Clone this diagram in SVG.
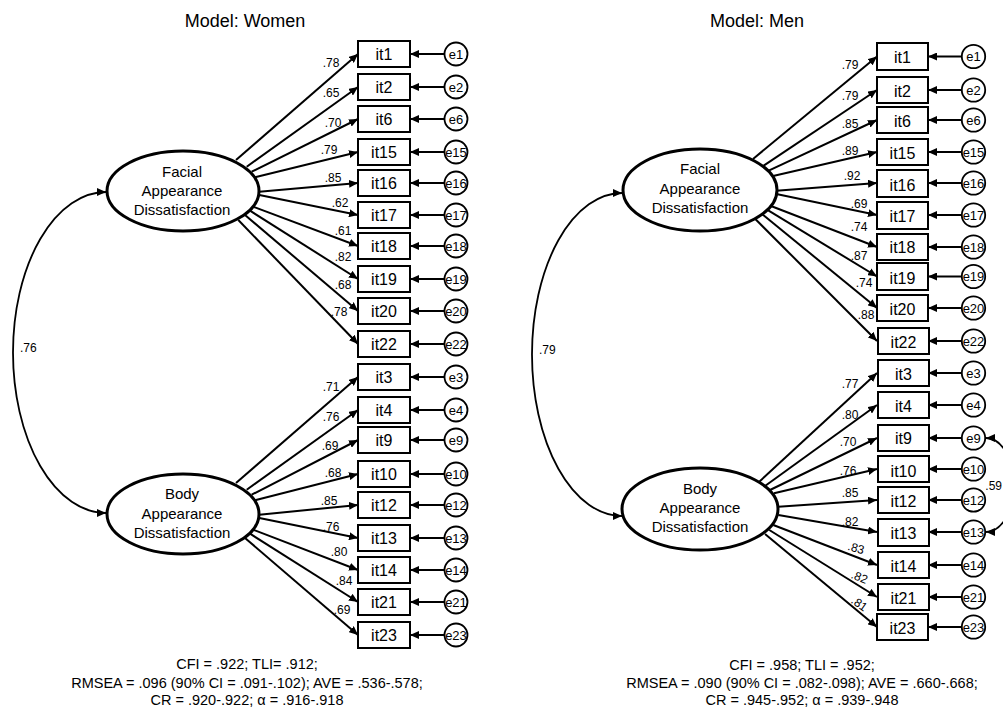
<svg xmlns="http://www.w3.org/2000/svg" width="1003" height="708" viewBox="0 0 1003 708">
<style>
text{font-family:"Liberation Sans",Arial,sans-serif;fill:#000}
.title{font-size:18px;text-anchor:middle}
.lat{fill:#fff;stroke:#000;stroke-width:3}
.lt{font-size:15px;text-anchor:middle}
.box{fill:#fff;stroke:#000;stroke-width:2}
.bt{font-size:16px;text-anchor:middle}
.err{fill:#fff;stroke:#000;stroke-width:1.8}
.et{font-size:13px;text-anchor:middle}
.ld{font-size:12px;text-anchor:middle}
.fit{font-size:14.5px;text-anchor:middle}
.c{fill:none;stroke:#000;stroke-width:2;marker-end:url(#ah)}
.cov{fill:none;stroke:#000;stroke-width:1.8;marker-start:url(#ah);marker-end:url(#ah)}
</style>
<defs>
<marker id="ah" markerWidth="10" markerHeight="8" refX="9" refY="4" orient="auto-start-reverse" markerUnits="userSpaceOnUse"><path d="M0,0 L9,4 L0,8 z" fill="#000"/></marker>
</defs>
<rect width="1003" height="708" fill="#fff"/>
<text class="title" x="245" y="27">Model: Women</text>
<text class="title" x="757" y="27">Model: Men</text>

<g id="connectors">
<path class="cov" d="M106,192 A93,160.5 0 0 0 106,513"/>
<path class="cov" d="M622,193 A90,161.5 0 0 0 622,516"/>
<path class="cov" d="M986,438 A28,47 0 0 1 986,532"/>
<path class="c" d="M236,160 L358,54"/>
<path class="c" d="M246.7,166.7 L358,87"/>
<path class="c" d="M251.7,171.7 L358,119"/>
<path class="c" d="M255,177.3 L358,152"/>
<path class="c" d="M259.3,191.7 L358,183"/>
<path class="c" d="M259.3,195 L358,215"/>
<path class="c" d="M253.3,206.7 L358,246"/>
<path class="c" d="M250,210.7 L358,279"/>
<path class="c" d="M245,215 L358,311"/>
<path class="c" d="M238.3,220 L358,344"/>
<path class="c" d="M236,483 L358,377"/>
<path class="c" d="M246.7,489.7 L358,410"/>
<path class="c" d="M251.7,494.7 L358,440"/>
<path class="c" d="M255,500.3 L358,474"/>
<path class="c" d="M259.3,514.7 L358,505"/>
<path class="c" d="M259.3,518 L358,538"/>
<path class="c" d="M253.3,529.7 L358,570"/>
<path class="c" d="M250,533.7 L358,602"/>
<path class="c" d="M245,538 L358,635"/>
<path class="c" d="M753,159 L877,56.5"/>
<path class="c" d="M763.7,165.7 L877,90"/>
<path class="c" d="M768.7,170.7 L877,120"/>
<path class="c" d="M772,176.3 L877,152"/>
<path class="c" d="M776.3,190.7 L877,183"/>
<path class="c" d="M776.3,194 L877,215"/>
<path class="c" d="M770.3,205.7 L877,247"/>
<path class="c" d="M767,209.7 L877,276.5"/>
<path class="c" d="M762,214 L877,308"/>
<path class="c" d="M755.3,219 L877,341"/>
<path class="c" d="M759.3,481.7 L877,373"/>
<path class="c" d="M765,486 L877,405"/>
<path class="c" d="M770,490 L877,438"/>
<path class="c" d="M774,493.3 L877,469"/>
<path class="c" d="M778.3,506.7 L877,500"/>
<path class="c" d="M778.3,515 L877,532"/>
<path class="c" d="M773.3,525 L877,565"/>
<path class="c" d="M769.3,530 L877,597"/>
<path class="c" d="M765,534 L877,627"/>
<path class="c" d="M444.5,54 H410"/>
<path class="c" d="M444.5,87 H410"/>
<path class="c" d="M444.5,119 H410"/>
<path class="c" d="M444.5,152 H410"/>
<path class="c" d="M444.5,183 H410"/>
<path class="c" d="M444.5,215 H410"/>
<path class="c" d="M444.5,246 H410"/>
<path class="c" d="M444.5,279 H410"/>
<path class="c" d="M444.5,311 H410"/>
<path class="c" d="M444.5,344 H410"/>
<path class="c" d="M444.5,377 H410"/>
<path class="c" d="M444.5,410 H410"/>
<path class="c" d="M444.5,440 H410"/>
<path class="c" d="M444.5,474 H410"/>
<path class="c" d="M444.5,505 H410"/>
<path class="c" d="M444.5,538 H410"/>
<path class="c" d="M444.5,570 H410"/>
<path class="c" d="M444.5,602 H410"/>
<path class="c" d="M444.5,635 H410"/>
<path class="c" d="M961.8,56.5 H928"/>
<path class="c" d="M961.8,90 H928"/>
<path class="c" d="M961.8,120 H928"/>
<path class="c" d="M961.8,152 H928"/>
<path class="c" d="M961.8,183 H928"/>
<path class="c" d="M961.8,215 H928"/>
<path class="c" d="M961.8,247 H928"/>
<path class="c" d="M961.8,276.5 H928"/>
<path class="c" d="M961.8,308 H928"/>
<path class="c" d="M961.8,341 H928"/>
<path class="c" d="M961.8,373 H928"/>
<path class="c" d="M961.8,405 H928"/>
<path class="c" d="M961.8,438 H928"/>
<path class="c" d="M961.8,469 H928"/>
<path class="c" d="M961.8,500 H928"/>
<path class="c" d="M961.8,532 H928"/>
<path class="c" d="M961.8,565 H928"/>
<path class="c" d="M961.8,597 H928"/>
<path class="c" d="M961.8,627 H928"/>
</g>

<g id="connector-labels">
<text class="ld" x="20" y="352" style="text-anchor:start">.76</text>
<text class="ld" x="539" y="354" style="text-anchor:start">.79</text>
<text class="ld" x="1002" y="490" style="text-anchor:end">.59</text>
<text class="ld" x="331" y="67">.78</text>
<text class="ld" x="331" y="97">.65</text>
<text class="ld" x="333" y="127">.70</text>
<text class="ld" x="329" y="154">.79</text>
<text class="ld" x="333" y="182">.85</text>
<text class="ld" x="340" y="207">.62</text>
<text class="ld" x="343" y="235">.61</text>
<text class="ld" x="343" y="261">.82</text>
<text class="ld" x="343" y="289">.68</text>
<text class="ld" x="339" y="316">.78</text>
<text class="ld" x="331" y="391">.71</text>
<text class="ld" x="331" y="421">.76</text>
<text class="ld" x="330" y="450">.69</text>
<text class="ld" x="333" y="477">.68</text>
<text class="ld" x="329" y="505">.85</text>
<text class="ld" x="331" y="531">.76</text>
<text class="ld" x="339" y="556">.80</text>
<text class="ld" x="344" y="585">.84</text>
<text class="ld" x="342" y="614">.69</text>
<text class="ld" x="850" y="69">.79</text>
<text class="ld" x="850" y="100">.79</text>
<text class="ld" x="850" y="128">.85</text>
<text class="ld" x="850" y="155">.89</text>
<text class="ld" x="852" y="180">.92</text>
<text class="ld" x="859" y="208">.69</text>
<text class="ld" x="859" y="231">.74</text>
<text class="ld" x="859" y="260">.87</text>
<text class="ld" x="864" y="287">.74</text>
<text class="ld" x="866" y="319">.88</text>
<text class="ld" x="850" y="388">.77</text>
<text class="ld" x="850" y="419">.80</text>
<text class="ld" x="848" y="446">.70</text>
<text class="ld" x="848" y="475">.76</text>
<text class="ld" x="850" y="497">.85</text>
<text class="ld" x="850" y="526">.82</text>
<text class="ld" transform="translate(855,552) rotate(15)">.83</text>
<text class="ld" transform="translate(858,581) rotate(22)">.82</text>
<text class="ld" transform="translate(857,607) rotate(35)">.81</text>
</g>

<g id="W_Facial"><ellipse class="lat" cx="183" cy="191" rx="76" ry="40"/><text class="lt" x="182" y="177">Facial</text><text class="lt" x="182" y="196">Appearance</text><text class="lt" x="182" y="215">Dissatisfaction</text></g>
<g id="W_Body"><ellipse class="lat" cx="183" cy="514" rx="76" ry="40"/><text class="lt" x="182" y="499">Body</text><text class="lt" x="182" y="519">Appearance</text><text class="lt" x="182" y="538">Dissatisfaction</text></g>

<g id="W_it1"><rect class="box" x="358" y="41" width="52" height="26"/><text class="bt" x="384" y="60">it1</text></g>
<g id="W_it2"><rect class="box" x="358" y="74" width="52" height="26"/><text class="bt" x="384" y="93">it2</text></g>
<g id="W_it6"><rect class="box" x="358" y="106" width="52" height="26"/><text class="bt" x="384" y="125">it6</text></g>
<g id="W_it15"><rect class="box" x="358" y="139" width="52" height="26"/><text class="bt" x="384" y="158">it15</text></g>
<g id="W_it16"><rect class="box" x="358" y="170" width="52" height="26"/><text class="bt" x="384" y="189">it16</text></g>
<g id="W_it17"><rect class="box" x="358" y="202" width="52" height="26"/><text class="bt" x="384" y="221">it17</text></g>
<g id="W_it18"><rect class="box" x="358" y="233" width="52" height="26"/><text class="bt" x="384" y="252">it18</text></g>
<g id="W_it19"><rect class="box" x="358" y="266" width="52" height="26"/><text class="bt" x="384" y="285">it19</text></g>
<g id="W_it20"><rect class="box" x="358" y="298" width="52" height="26"/><text class="bt" x="384" y="317">it20</text></g>
<g id="W_it22"><rect class="box" x="358" y="331" width="52" height="26"/><text class="bt" x="384" y="350">it22</text></g>
<g id="W_it3"><rect class="box" x="358" y="364" width="52" height="26"/><text class="bt" x="384" y="383">it3</text></g>
<g id="W_it4"><rect class="box" x="358" y="397" width="52" height="26"/><text class="bt" x="384" y="416">it4</text></g>
<g id="W_it9"><rect class="box" x="358" y="427" width="52" height="26"/><text class="bt" x="384" y="446">it9</text></g>
<g id="W_it10"><rect class="box" x="358" y="461" width="52" height="26"/><text class="bt" x="384" y="480">it10</text></g>
<g id="W_it12"><rect class="box" x="358" y="492" width="52" height="26"/><text class="bt" x="384" y="511">it12</text></g>
<g id="W_it13"><rect class="box" x="358" y="525" width="52" height="26"/><text class="bt" x="384" y="544">it13</text></g>
<g id="W_it14"><rect class="box" x="358" y="557" width="52" height="26"/><text class="bt" x="384" y="576">it14</text></g>
<g id="W_it21"><rect class="box" x="358" y="589" width="52" height="26"/><text class="bt" x="384" y="608">it21</text></g>
<g id="W_it23"><rect class="box" x="358" y="622" width="52" height="26"/><text class="bt" x="384" y="641">it23</text></g>

<g id="W_e1"><circle class="err" cx="456" cy="54" r="11.5"/><text class="et" x="456" y="58.5">e1</text></g>
<g id="W_e2"><circle class="err" cx="456" cy="87" r="11.5"/><text class="et" x="456" y="91.5">e2</text></g>
<g id="W_e6"><circle class="err" cx="456" cy="119" r="11.5"/><text class="et" x="456" y="123.5">e6</text></g>
<g id="W_e15"><circle class="err" cx="456" cy="152" r="11.5"/><text class="et" x="456" y="156.5">e15</text></g>
<g id="W_e16"><circle class="err" cx="456" cy="183" r="11.5"/><text class="et" x="456" y="187.5">e16</text></g>
<g id="W_e17"><circle class="err" cx="456" cy="215" r="11.5"/><text class="et" x="456" y="219.5">e17</text></g>
<g id="W_e18"><circle class="err" cx="456" cy="246" r="11.5"/><text class="et" x="456" y="250.5">e18</text></g>
<g id="W_e19"><circle class="err" cx="456" cy="279" r="11.5"/><text class="et" x="456" y="283.5">e19</text></g>
<g id="W_e20"><circle class="err" cx="456" cy="311" r="11.5"/><text class="et" x="456" y="315.5">e20</text></g>
<g id="W_e22"><circle class="err" cx="456" cy="344" r="11.5"/><text class="et" x="456" y="348.5">e22</text></g>
<g id="W_e3"><circle class="err" cx="456" cy="377" r="11.5"/><text class="et" x="456" y="381.5">e3</text></g>
<g id="W_e4"><circle class="err" cx="456" cy="410" r="11.5"/><text class="et" x="456" y="414.5">e4</text></g>
<g id="W_e9"><circle class="err" cx="456" cy="440" r="11.5"/><text class="et" x="456" y="444.5">e9</text></g>
<g id="W_e10"><circle class="err" cx="456" cy="474" r="11.5"/><text class="et" x="456" y="478.5">e10</text></g>
<g id="W_e12"><circle class="err" cx="456" cy="505" r="11.5"/><text class="et" x="456" y="509.5">e12</text></g>
<g id="W_e13"><circle class="err" cx="456" cy="538" r="11.5"/><text class="et" x="456" y="542.5">e13</text></g>
<g id="W_e14"><circle class="err" cx="456" cy="570" r="11.5"/><text class="et" x="456" y="574.5">e14</text></g>
<g id="W_e21"><circle class="err" cx="456" cy="602" r="11.5"/><text class="et" x="456" y="606.5">e21</text></g>
<g id="W_e23"><circle class="err" cx="456" cy="635" r="11.5"/><text class="et" x="456" y="639.5">e23</text></g>

<g id="M_Facial"><ellipse class="lat" cx="700" cy="190" rx="77" ry="41"/><text class="lt" x="700" y="174">Facial</text><text class="lt" x="700" y="194">Appearance</text><text class="lt" x="700" y="213">Dissatisfaction</text></g>
<g id="M_Body"><ellipse class="lat" cx="700" cy="509" rx="78" ry="41"/><text class="lt" x="700" y="494">Body</text><text class="lt" x="700" y="513">Appearance</text><text class="lt" x="700" y="532">Dissatisfaction</text></g>

<g id="M_it1"><rect class="box" x="877" y="43" width="51" height="27"/><text class="bt" x="902.5" y="63">it1</text></g>
<g id="M_it2"><rect class="box" x="877" y="77" width="51" height="26"/><text class="bt" x="902.5" y="97">it2</text></g>
<g id="M_it6"><rect class="box" x="877" y="107" width="51" height="26"/><text class="bt" x="902.5" y="127">it6</text></g>
<g id="M_it15"><rect class="box" x="877" y="139" width="51" height="26"/><text class="bt" x="902.5" y="159">it15</text></g>
<g id="M_it16"><rect class="box" x="877" y="170" width="51" height="27"/><text class="bt" x="902.5" y="191">it16</text></g>
<g id="M_it17"><rect class="box" x="877" y="202" width="51" height="27"/><text class="bt" x="902.5" y="222">it17</text></g>
<g id="M_it18"><rect class="box" x="877" y="234" width="51" height="26"/><text class="bt" x="902.5" y="253">it18</text></g>
<g id="M_it19"><rect class="box" x="877" y="263" width="51" height="27"/><text class="bt" x="902.5" y="284">it19</text></g>
<g id="M_it20"><rect class="box" x="877" y="295" width="51" height="26"/><text class="bt" x="902.5" y="315">it20</text></g>
<g id="M_it22"><rect class="box" x="878" y="328" width="51" height="26"/><text class="bt" x="903.5" y="348">it22</text></g>
<g id="M_it3"><rect class="box" x="878" y="360" width="51" height="26"/><text class="bt" x="903.5" y="380">it3</text></g>
<g id="M_it4"><rect class="box" x="878" y="392" width="51" height="26"/><text class="bt" x="903.5" y="412">it4</text></g>
<g id="M_it9"><rect class="box" x="878" y="425" width="51" height="26"/><text class="bt" x="903.5" y="444">it9</text></g>
<g id="M_it10"><rect class="box" x="878" y="456" width="51" height="26"/><text class="bt" x="903.5" y="477">it10</text></g>
<g id="M_it12"><rect class="box" x="878" y="487" width="51" height="26"/><text class="bt" x="903.5" y="507">it12</text></g>
<g id="M_it13"><rect class="box" x="878" y="519" width="51" height="27"/><text class="bt" x="903.5" y="539">it13</text></g>
<g id="M_it14"><rect class="box" x="878" y="552" width="51" height="26"/><text class="bt" x="903.5" y="572">it14</text></g>
<g id="M_it21"><rect class="box" x="878" y="584" width="51" height="26"/><text class="bt" x="903.5" y="604">it21</text></g>
<g id="M_it23"><rect class="box" x="877" y="614" width="51" height="26"/><text class="bt" x="902.5" y="634">it23</text></g>

<g id="M_e1"><circle class="err" cx="973.5" cy="56.5" r="11.7"/><text class="et" x="973.5" y="61">e1</text></g>
<g id="M_e2"><circle class="err" cx="973.5" cy="90" r="11.7"/><text class="et" x="973.5" y="94.5">e2</text></g>
<g id="M_e6"><circle class="err" cx="973.5" cy="120" r="11.7"/><text class="et" x="973.5" y="124.5">e6</text></g>
<g id="M_e15"><circle class="err" cx="973.5" cy="152" r="11.7"/><text class="et" x="973.5" y="156.5">e15</text></g>
<g id="M_e16"><circle class="err" cx="973.5" cy="183" r="11.7"/><text class="et" x="973.5" y="187.5">e16</text></g>
<g id="M_e17"><circle class="err" cx="973.5" cy="215" r="11.7"/><text class="et" x="973.5" y="219.5">e17</text></g>
<g id="M_e18"><circle class="err" cx="973.5" cy="247" r="11.7"/><text class="et" x="973.5" y="251.5">e18</text></g>
<g id="M_e19"><circle class="err" cx="973.5" cy="276.5" r="11.7"/><text class="et" x="973.5" y="281">e19</text></g>
<g id="M_e20"><circle class="err" cx="973.5" cy="308" r="11.7"/><text class="et" x="973.5" y="312.5">e20</text></g>
<g id="M_e22"><circle class="err" cx="973.5" cy="341" r="11.7"/><text class="et" x="973.5" y="345.5">e22</text></g>
<g id="M_e3"><circle class="err" cx="973.5" cy="373" r="11.7"/><text class="et" x="973.5" y="377.5">e3</text></g>
<g id="M_e4"><circle class="err" cx="973.5" cy="405" r="11.7"/><text class="et" x="973.5" y="409.5">e4</text></g>
<g id="M_e9"><circle class="err" cx="973.5" cy="438" r="11.7"/><text class="et" x="973.5" y="442.5">e9</text></g>
<g id="M_e10"><circle class="err" cx="973.5" cy="469" r="11.7"/><text class="et" x="973.5" y="473.5">e10</text></g>
<g id="M_e12"><circle class="err" cx="973.5" cy="500" r="11.7"/><text class="et" x="973.5" y="504.5">e12</text></g>
<g id="M_e13"><circle class="err" cx="973.5" cy="532" r="11.7"/><text class="et" x="973.5" y="536.5">e13</text></g>
<g id="M_e14"><circle class="err" cx="973.5" cy="565" r="11.7"/><text class="et" x="973.5" y="569.5">e14</text></g>
<g id="M_e21"><circle class="err" cx="973.5" cy="597" r="11.7"/><text class="et" x="973.5" y="601.5">e21</text></g>
<g id="M_e23"><circle class="err" cx="973.5" cy="627" r="11.7"/><text class="et" x="973.5" y="631.5">e23</text></g>

<g id="W_fit">
<text class="fit" x="247" y="669">CFI = .922; TLI= .912;</text>
<text class="fit" x="247" y="688">RMSEA = .096 (90% CI = .091-.102); AVE  = .536-.578;</text>
<text class="fit" x="247" y="705">CR = .920-.922; α = .916-.918</text>
</g>
<g id="M_fit">
<text class="fit" x="802" y="670">CFI = .958; TLI = .952;</text>
<text class="fit" x="802" y="688">RMSEA = .090 (90% CI = .082-.098); AVE  = .660-.668;</text>
<text class="fit" x="802" y="705">CR = .945-.952; α = .939-.948</text>
</g>
</svg>
